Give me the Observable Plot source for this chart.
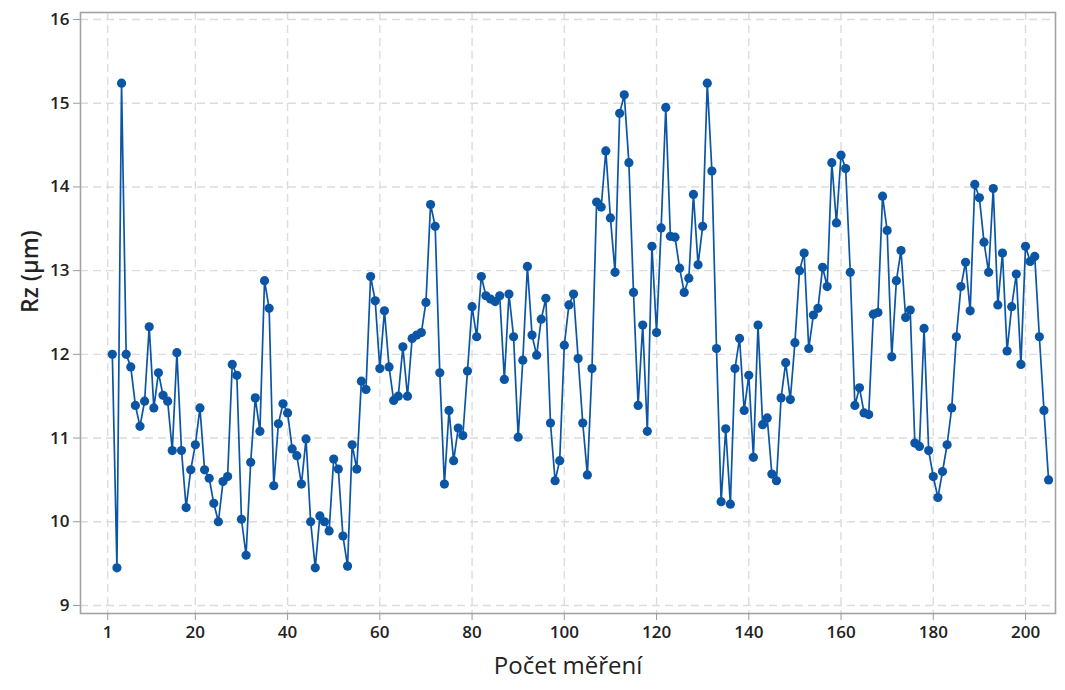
<!DOCTYPE html>
<html><head><meta charset="utf-8">
<script src="https://cdn.jsdelivr.net/npm/d3@7"></script>
<script src="https://cdn.jsdelivr.net/npm/@observablehq/plot@0.6"></script>
<style>body{margin:0;background:#fff;} svg{font-family:"Open Sans",sans-serif;}</style>
</head><body><div id="chart"></div>
<script>
const rzValues = [
  12.00, 9.45, 15.24, 12.00, 11.85, 11.39, 11.14, 11.44, 12.33, 11.36,
  11.78, 11.51, 11.44, 10.85, 12.02, 10.85, 10.17, 10.62, 10.92, 11.36,
  10.62, 10.52, 10.22, 10.00, 10.48, 10.54, 11.88, 11.75, 10.03, 9.60,
  10.71, 11.48, 11.08, 12.88, 12.55, 10.43, 11.17, 11.41, 11.30, 10.87,
  10.79, 10.45, 10.99, 10.00, 9.45, 10.07, 10.00, 9.89, 10.75, 10.63,
  9.83, 9.47, 10.92, 10.63, 11.68, 11.58, 12.93, 12.64, 11.83, 12.52,
  11.85, 11.45, 11.50, 12.09, 11.50, 12.19, 12.23, 12.26, 12.62, 13.79,
  13.53, 11.78, 10.45, 11.33, 10.73, 11.12, 11.03, 11.80, 12.57, 12.21,
  12.93, 12.70, 12.66, 12.63, 12.70, 11.70, 12.72, 12.21, 11.01, 11.93,
  13.05, 12.23, 11.99, 12.42, 12.67, 11.18, 10.49, 10.73, 12.11, 12.59,
  12.72, 11.95, 11.18, 10.56, 11.83, 13.82, 13.76, 14.43, 13.63, 12.98,
  14.88, 15.10, 14.29, 12.74, 11.39, 12.35, 11.08, 13.29, 12.26, 13.51,
  14.95, 13.41, 13.40, 13.03, 12.74, 12.91, 13.91, 13.07, 13.53, 15.24,
  14.19, 12.07, 10.24, 11.11, 10.21, 11.83, 12.19, 11.33, 11.75, 10.77,
  12.35, 11.16, 11.24, 10.57, 10.49, 11.48, 11.90, 11.46, 12.14, 13.00,
  13.21, 12.07, 12.47, 12.55, 13.04, 12.81, 14.29, 13.57, 14.38, 14.22,
  12.98, 11.39, 11.60, 11.30, 11.28, 12.48, 12.50, 13.89, 13.48, 11.97,
  12.88, 13.24, 12.44, 12.53, 10.94, 10.90, 12.31, 10.85, 10.54, 10.29,
  10.60, 10.92, 11.36, 12.21, 12.81, 13.10, 12.52, 14.03, 13.87, 13.34,
  12.98, 13.98, 12.59, 13.21, 12.04, 12.57, 12.96, 11.88, 13.29, 13.11,
  13.17, 12.21, 11.33, 10.50
];
const firstMeasurement = 2;
const xTicks = [1, 20, 40, 60, 80, 100, 120, 140, 160, 180, 200];
const yTicks = [9, 10, 11, 12, 13, 14, 15, 16];
const xLabel = ["Počet měření"];
const yLabel = ["Rz (µm)"];

const data = rzValues.map((v, i) => ({n: i + firstMeasurement, rz: v}));
const blue = "#0b55a5";
const gridStyle = {stroke: "#dcdcdc", strokeWidth: 1.4, strokeDasharray: "8,5"};

const plot = Plot.plot({
  width: 1065, height: 690,
  marginLeft: 80, marginRight: 10, marginTop: 12, marginBottom: 77,
  x: {domain: [-4.9, 206.5]},
  y: {domain: [8.904, 16.084]},
  marks: [
    Plot.ruleX(xTicks, gridStyle),
    Plot.ruleY(yTicks, gridStyle),
    Plot.frame({stroke: "#a3a3a3", strokeWidth: 1.6}),
    Plot.axisX({ticks: xTicks, tickSize: 7, tickPadding: 5, label: null, fontSize: 17, fontWeight: 600, stroke: "#999", fill: "#222"}),
    Plot.axisY({ticks: yTicks, tickSize: 7, tickPadding: 4, label: null, fontSize: 17, fontWeight: 600, stroke: "#999", fill: "#222"}),
    Plot.line(data, {x: "n", y: "rz", stroke: blue, strokeWidth: 1.7}),
    Plot.dot(data, {x: "n", y: "rz", r: 4.6, fill: blue, stroke: "none"}),
    Plot.text(xLabel, {text: d => d, frameAnchor: "bottom", dy: 60, fontSize: 24, fontWeight: 500, fill: "#222"}),
    Plot.text(yLabel, {text: d => d, frameAnchor: "left", dx: -50, rotate: -90, fontSize: 23, fontWeight: 600, fill: "#222"})
  ]
});
document.getElementById("chart").appendChild(plot);
</script>
</body></html>
